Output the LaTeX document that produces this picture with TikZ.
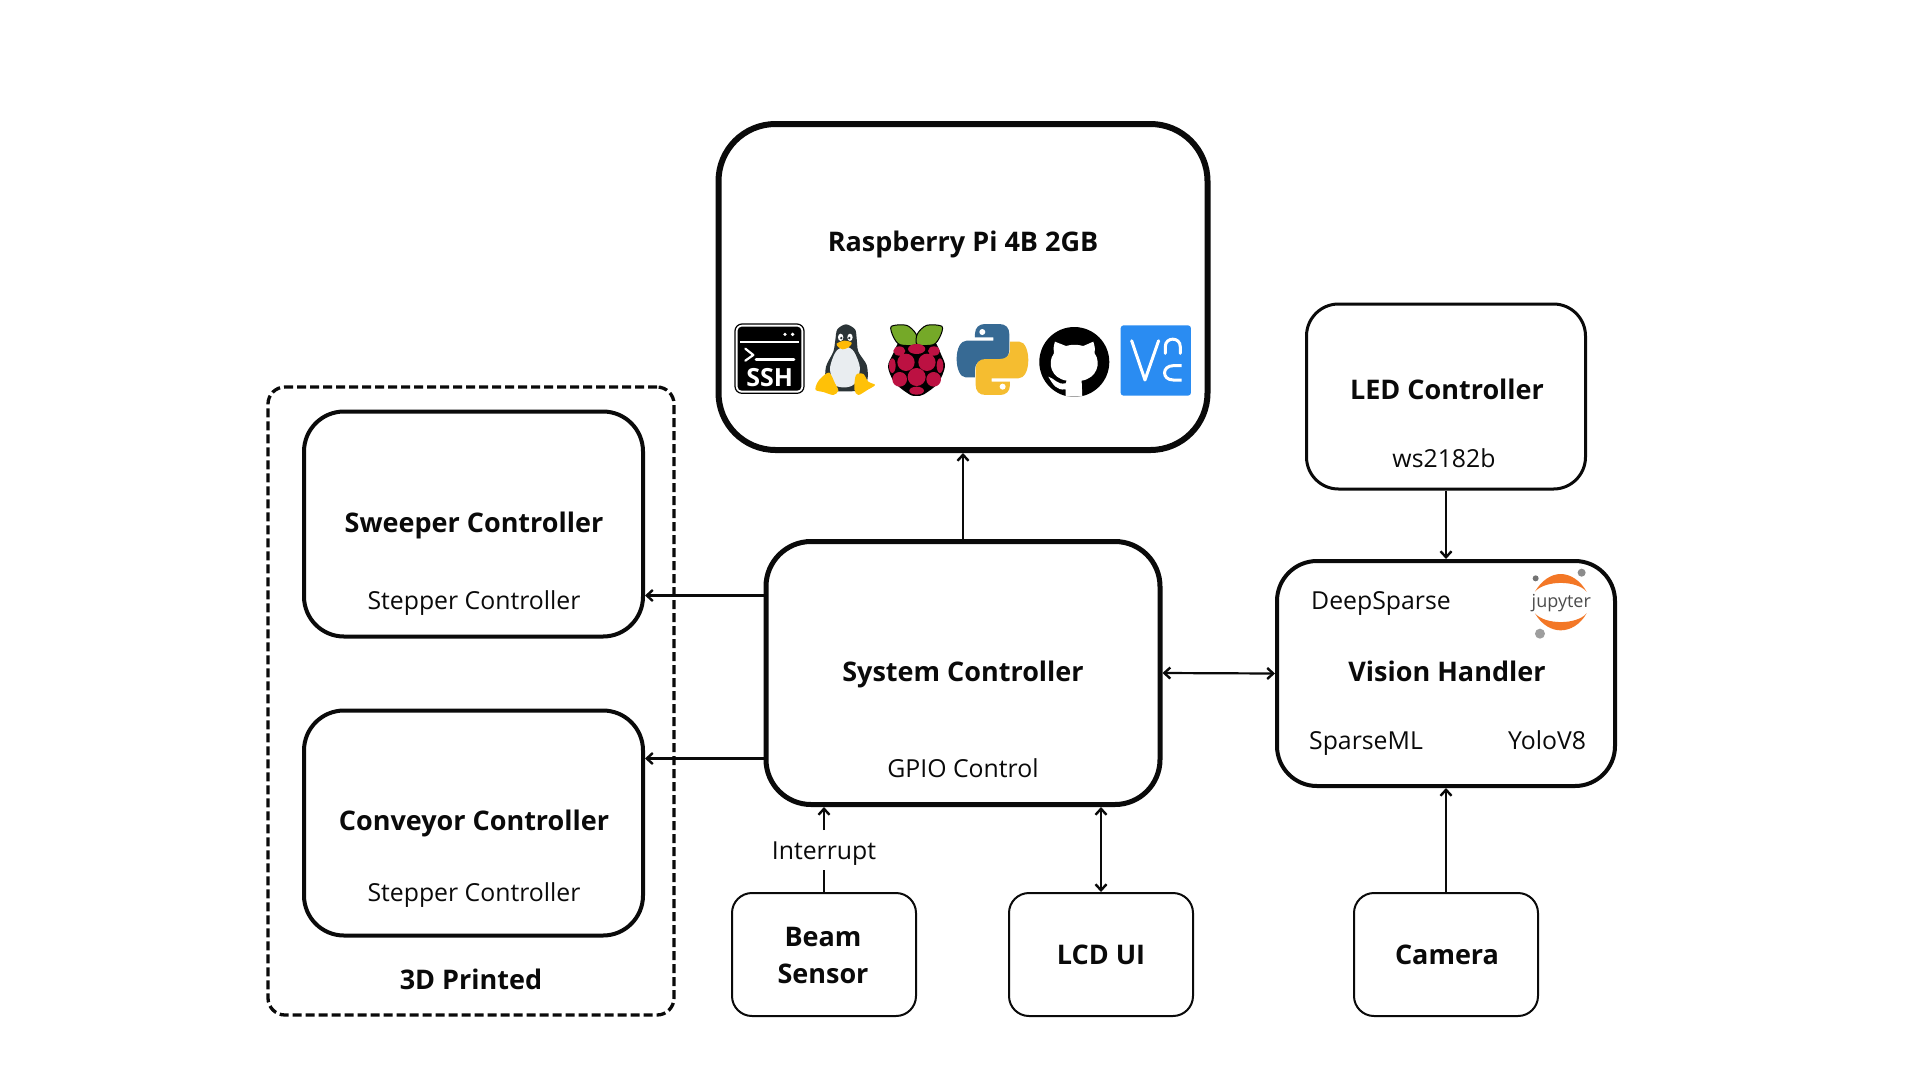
\documentclass[tikz,border=0pt]{standalone}
\usepackage{fontspec}
\setmainfont{Open Sans}
\usetikzlibrary{arrows.meta}
\definecolor{inkc}{HTML}{0A0A0A}
\definecolor{tuxdark}{HTML}{2B3437}
\definecolor{tuxbelly}{HTML}{E9EDF0}
\definecolor{tuxgold}{HTML}{FFC107}
\definecolor{leafg}{HTML}{75A928}
\definecolor{berry}{HTML}{BC1142}
\definecolor{pyblue}{HTML}{376A94}
\definecolor{pyyellow}{HTML}{F5BD30}
\definecolor{vncblue}{HTML}{2A8CF2}
\definecolor{juporange}{HTML}{F37726}
\tikzset{
  bigbox/.style={draw=inkc,line width=6pt,rounded corners=57pt,inner sep=0pt,minimum width=#1},
  midbox/.style={draw=inkc,line width=4pt,rounded corners=40pt,inner sep=0pt},
  ledbox/.style={draw=inkc,line width=3pt,rounded corners=32pt,inner sep=0pt},
  smallbox/.style={draw=inkc,line width=2pt,rounded corners=20pt,inner sep=0pt,minimum width=184pt,minimum height=123pt},
  title/.style={font=\fontsize{27}{32}\selectfont\bfseries,text=inkc,anchor=base,inner sep=0pt},
  sub/.style={font=\fontsize{24.8}{28}\selectfont,text=inkc,anchor=base,inner sep=0pt},
  link/.style={draw=inkc,line width=2.2pt},
  tip/.style={-{Straight Barb[length=6pt,width=11pt,line width=2.4pt]}},
  tips/.style={{Straight Barb[length=6pt,width=11pt,line width=2.4pt]}-{Straight Barb[length=6pt,width=11pt,line width=2.4pt]}},
}
\begin{document}
\begin{tikzpicture}[x=1pt,y=-1pt]
\useasboundingbox (0,0) rectangle (1920,1080);
\fill[white] (0,0) rectangle (1920,1080);

% dashed group
\node[draw=inkc,line width=3.3pt,dash pattern=on 9pt off 4pt,rounded corners=17pt,minimum width=406pt,minimum height=628pt,inner sep=0pt] (group) at (471,701) {};

% boxes
\node[bigbox=489pt,minimum height=326pt] (pi) at (963,287) {};
\node[midbox,line width=5pt,rounded corners=45pt,minimum width=394pt,minimum height=263pt] (sys) at (963,673) {};
\node[midbox,minimum width=338pt,minimum height=225pt] (vis) at (1446,673.5) {};
\node[ledbox,minimum width=279pt,minimum height=185pt] (led) at (1446,396.5) {};
\node[midbox,minimum width=339pt,minimum height=225pt] (swp) at (473.5,524) {};
\node[midbox,minimum width=339pt,minimum height=225pt] (cnv) at (473.5,823) {};
\node[smallbox] (beam) at (824,954.5) {};
\node[smallbox] (lcd) at (1101,954.5) {};
\node[smallbox] (cam) at (1446,954.5) {};

% texts
\node[title] (tpi) at (963,251) {Raspberry Pi 4B 2GB};
\node[title] (tled) at (1447,399) {LED Controller};
\node[sub] (sled) at (1444,467) {ws2182b};
\node[title] (tswp) at (474,532) {Sweeper Controller};
\node[sub] (sswp) at (474,609) {Stepper Controller};
\node[title] (tcnv) at (474,830) {Conveyor Controller};
\node[sub] (scnv) at (474,901) {Stepper Controller};
\node[title] (tgrp) at (471,989) {3D Printed};
\node[title] (tsys) at (963,681) {System Controller};
\node[sub] (ssys) at (963,777) {GPIO Control};
\node[title] (tvis) at (1447,681) {Vision Handler};
\node[sub] (svis1) at (1381,609) {DeepSparse};
\node[sub] (svis2) at (1366,749) {SparseML};
\node[sub] (svis3) at (1547,749) {YoloV8};
\node[title] (tbeam1) at (823,946) {Beam};
\node[title] (tbeam2) at (823,983) {Sensor};
\node[title] (tlcd) at (1101,964) {LCD UI};
\node[title] (tcam) at (1447,964) {Camera};
\node[sub] (lint) at (824,859) {Interrupt};

% connectors
\draw[link,tip] (sys.north) -- (pi.south);
\draw[link,tip] (led.south) -- (vis.north);
\draw[link,tip] (cam.north) -- (vis.south);
\draw[link,tip] ([yshift=77.5pt]sys.west) -- ([yshift=77.5pt]sys.west -| swp.east);
\draw[link,tip] ([yshift=-85.5pt]sys.west) -- ([yshift=-85.5pt]sys.west -| cnv.east);
\draw[link,tips] (sys.east) -- (vis.west);
\draw[link,tips] (lcd.north) -- (lcd.north |- sys.south);
\draw[link] (beam.north) -- ([yshift=-5pt]lint.south);
\draw[link,tip] ([yshift=11pt]lint.north) -- (beam.north |- sys.south);

% ---- icons, drawn in a 3x grid anchored at (720,300)
\begin{scope}[shift={(720,300)},x=0.3333pt,y=-0.3333pt]
  % SSH
  \draw[black,fill=white,line width=1.2pt,rounded corners=7pt] (45,72) rectangle (252,280);
  \fill[black,rounded corners=4pt] (53,80) rectangle (244,272);
  \draw[white,line width=2.3pt] (60,126) -- (238,126);
  \fill[white] (195,103) circle (5.5) (218,103) circle (5.5);
  \draw[white,line width=2.2pt,line cap=round,line join=round] (76,146) -- (100,165) -- (76,182);
  \draw[white,line width=2.7pt,line cap=round] (108,179) -- (222,179);
  \node[font=\fontsize{25}{28}\selectfont\bfseries,text=white,inner sep=0pt] (ssh) at (149,232) {SSH};

  % Tux
  \fill[tuxdark] plot[smooth cycle] coordinates {(378,73) (352,88) (346,120) (340,155) (318,200) (318,250) (345,272) (380,274) (420,270) (442,240) (440,195) (415,155) (410,115) (405,88)};
  \fill[tuxbelly] plot[smooth cycle] coordinates {(352,150) (378,140) (402,155) (420,205) (405,250) (378,262) (345,255) (330,210) (338,175)};
  \fill[white] (362,112) ellipse (8 and 11) (390,112) ellipse (8 and 11);
  \fill[tuxdark] (364,114) circle (4) (388,114) circle (4);
  \fill[tuxgold!90!orange] plot[smooth cycle] coordinates {(350,131) (372,122) (395,128) (386,142) (368,148) (355,141)};
  \fill[tuxgold] plot[smooth cycle] coordinates {(305,232) (328,218) (345,250) (355,272) (340,285) (310,276) (287,270) (291,250)};
  \fill[tuxgold] plot[smooth cycle] coordinates {(408,225) (430,222) (445,245) (465,255) (442,270) (415,285) (403,268)};

  % Raspberry
  \fill[black] plot[smooth cycle] coordinates {(590,112) (640,120) (664,165) (675,200) (654,250) (612,283) (590,288) (568,283) (524,248) (504,200) (520,160) (542,120)};
  \draw[black,fill=leafg,line width=1pt] plot[smooth cycle] coordinates {(514,79) (560,76) (588,102) (588,134) (540,134) (520,110)};
  \draw[black,fill=leafg,line width=1pt] plot[smooth cycle] coordinates {(666,79) (620,76) (592,102) (592,134) (640,134) (660,110)};
  \fill[berry] (590,147) ellipse (26 and 15) (538,153) ellipse (18 and 14) (642,153) ellipse (18 and 14)
     (558,187) circle (26) (621,187) circle (26) (517,197) ellipse (10 and 22) (660,197) ellipse (10 and 22)
     (590,231) circle (27) (539,238) circle (22) (641,238) circle (22) (590,272) ellipse (22 and 12);

  % Python
  \def\pysnake{(765,102) .. controls (765,82) and (778,72) .. (795,72) -- (838,72) .. controls (858,72) and (868,84) .. (868,102) -- (868,150) .. controls (868,170) and (855,180) .. (838,180) -- (795,180) .. controls (775,180) and (765,192) .. (765,210) -- (765,232) -- (737,232) .. controls (720,232) and (710,205) .. (710,177) .. controls (710,145) and (722,122) .. (740,122) -- (820,122) -- (820,112) -- (765,112) -- cycle}
  \fill[pyblue] \pysnake;
  \fill[pyyellow] [rotate around={180:(817.5,178.5)}] \pysnake;
  \fill[white] (787,96) circle (9) (848,260) circle (9);

  % GitHub
  \fill[black] (1063,186) circle (105);
  \fill[white] (1005,125) -- (1038,138) .. controls (1055,133) and (1072,133) .. (1090,138) -- (1120,125) .. controls (1125,140) and (1126,150) .. (1124,160)
     .. controls (1145,190) and (1130,235) .. (1085,242) -- (1087,290) -- (1037,290) -- (1037,268)
     .. controls (1010,272) and (1000,255) .. (985,230) .. controls (1005,235) and (1010,255) .. (1037,250) -- (1040,242)
     .. controls (995,235) and (980,190) .. (1002,160) .. controls (1000,150) and (1000,140) .. (1005,125) -- cycle;

  % VNC
  \fill[vncblue,rounded corners=3pt] (1202,76) rectangle (1413,287);
  \draw[white,line width=3pt,line cap=round,line join=round] (1235,122) -- (1275,240) -- (1316,122);
  \draw[white,line width=3pt,line cap=round] (1336,160) -- (1336,140) .. controls (1336,110) and (1381,110) .. (1381,140) -- (1381,160);
  \draw[white,line width=3pt] (1385,197) -- (1360,197) .. controls (1325,197) and (1325,240) .. (1360,240) -- (1385,240);
\end{scope}

% ---- jupyter logo, 3x grid anchored at (1270,550)
\begin{scope}[shift={(1270,550)},x=0.3333pt,y=-0.3333pt]
  \fill[juporange] (795,125) .. controls (815,90) and (845,72) .. (872,72) .. controls (900,72) and (930,90) .. (950,125) .. controls (920,90) and (825,90) .. (795,125) -- cycle;
  \fill[juporange] (795,190) .. controls (815,225) and (845,241) .. (872,241) .. controls (900,241) and (930,225) .. (950,190) .. controls (920,225) and (825,225) .. (795,190) -- cycle;
  \fill[black!55] (797,85) circle (9);
  \fill[black!45] (935,68) circle (12);
  \fill[black!38] (810,251) circle (15);
  \node[font=\fontsize{18}{20}\selectfont,text=black!70,inner sep=0pt] (jup) at (874,158) {jupyter};
\end{scope}
\end{tikzpicture}
\end{document}
